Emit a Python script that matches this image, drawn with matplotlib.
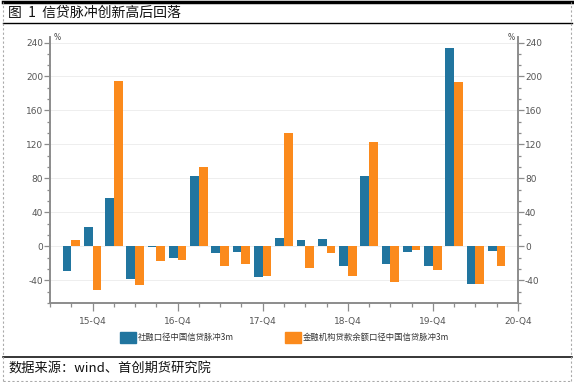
import matplotlib
matplotlib.use('Agg')
import matplotlib.pyplot as plt
import matplotlib.patches as mpatches
from matplotlib.lines import Line2D
from matplotlib.ticker import MultipleLocator, AutoMinorLocator, FixedLocator
import numpy as np

plt.rcParams['font.family'] = ['Noto Sans CJK SC', 'DejaVu Sans']

# ---- data ----
quarters = ['15-Q3', '15-Q4', '16-Q1', '16-Q2', '16-Q3', '16-Q4', '17-Q1',
            '17-Q2', '17-Q3', '17-Q4', '18-Q1', '18-Q2', '18-Q3', '18-Q4',
            '19-Q1', '19-Q2', '19-Q3', '19-Q4', '20-Q1', '20-Q2', '20-Q3']
shrong = [-29, 22.7, 56.5, -38, -0.5, -14, 82.7, -8, -6.3, -35.7, 10.2,
          7.8, 8.6, -23.5, 82.7, -20.4, -7, -23.5, 233, -44.7, -5.5]
jinrong = [7.5, -51, 195, -45.5, -17, -16, 93.3, -22.7, -20.8, -34.5, 134,
           -25, -7.8, -35, 123, -42, -4, -28, 193.7, -44, -23.5]
xlabels = ['15-Q4', '16-Q4', '17-Q4', '18-Q4', '19-Q4', '20-Q4']
name_a = '社融口径中国信贷脉冲3m'
name_b = '金融机构贷款余额口径中国信贷脉冲3m'

blue = '#21759f'
orange = '#fb8a1c'
grey = '#8c8c8c'
tickfont = ['Liberation Sans Narrow', 'DejaVu Sans']

fig = plt.figure(figsize=(5.74, 3.82), dpi=100)
ax = fig.add_axes([50/574, 79/382, 468/574, 266/382])

# quarter index: axis starts one quarter before the first bar
x = np.arange(len(quarters)) + 1
w = 0.41
ax.bar(x - w/2, shrong, width=w, color=blue, label=name_a, zorder=3)
ax.bar(x + w/2, jinrong, width=w, color=orange, label=name_b, zorder=3)

ax.set_xlim(0, len(quarters) + 1)
ax.set_ylim(-66.67, 246.5)

# x ticks: label each Q4, minor tick every quarter
major_pos = [quarters.index(q) + 1 if q in quarters else len(quarters) + 1
             for q in xlabels]
ax.xaxis.set_major_locator(FixedLocator(major_pos))
ax.set_xticklabels(xlabels, family=tickfont, fontsize=6.5, color='#555555')
ax.xaxis.set_minor_locator(MultipleLocator(1))
ax.tick_params(axis='x', which='major', length=6, width=0.9, color=grey, pad=4)
ax.tick_params(axis='x', which='minor', length=3, width=0.9, color=grey)

ax.yaxis.set_major_locator(MultipleLocator(40))
ax.yaxis.set_minor_locator(AutoMinorLocator(3))
ax.tick_params(axis='y', which='major', length=4, width=0.9, color=grey,
               labelsize=6.5, labelcolor='#555555', pad=1)
ax.tick_params(axis='y', which='minor', length=2, width=0.9, color=grey)
ax.yaxis.set_major_formatter(plt.FuncFormatter(lambda v, p: f'{v:.0f}'))
for t in ax.get_yticklabels():
    t.set_family(tickfont)
ax.grid(axis='y', which='major', color='#eeeeee', lw=0.7, zorder=0)

# right axis mirrors the left one
ax2 = ax.twinx()
ax2.set_ylim(ax.get_ylim())
ax2.yaxis.set_major_locator(MultipleLocator(40))
ax2.yaxis.set_minor_locator(AutoMinorLocator(3))
ax2.tick_params(axis='y', which='major', length=4, width=0.9, color=grey,
                labelsize=6.5, labelcolor='#555555', pad=1)
ax2.tick_params(axis='y', which='minor', length=2, width=0.9, color=grey)
ax2.yaxis.set_major_formatter(plt.FuncFormatter(lambda v, p: f'{v:.0f}'))
for t in ax2.get_yticklabels():
    t.set_family(tickfont)

for a in (ax, ax2):
    a.spines['top'].set_visible(False)
    for s in ('left', 'right', 'bottom'):
        a.spines[s].set_color(grey)
        a.spines[s].set_linewidth(1.2)

ax.text(0.008, 1.0, '%', transform=ax.transAxes, fontsize=5.5, color='#444444',
        ha='left', va='center', family=tickfont)
ax.text(0.992, 1.0, '%', transform=ax.transAxes, fontsize=5.5, color='#444444',
        ha='right', va='center', family=tickfont)

# legend
handles = [mpatches.Patch(color=blue, label=name_a),
           mpatches.Patch(color=orange, label=name_b)]
leg = fig.legend(handles=handles, loc='center', bbox_to_anchor=(0.496, 0.1165),
                 ncol=2, frameon=False, fontsize=6, handlelength=1.92,
                 handleheight=1.56, handletextpad=0.2, columnspacing=6.1)
for t in leg.get_texts():
    t.set_color('#333333')

# frame, title and source
fig.add_artist(Line2D([3/574, 572/574], [1 - 1.5/382, 1 - 1.5/382], color='black', lw=2.5))
fig.add_artist(Line2D([3/574, 572/574], [1 - 23.3/382, 1 - 23.3/382], color='black', lw=1))
fig.add_artist(Line2D([3/574, 572/574], [1 - 357.3/382, 1 - 357.3/382], color='black', lw=1.1))
dash = dict(color='#aaaaaa', lw=0.8, ls=(0, (2, 2)))
fig.add_artist(Line2D([2.5/574, 2.5/574], [1/382, 1 - 2/382], **dash))
fig.add_artist(Line2D([571/574, 571/574], [1/382, 1 - 2/382], **dash))
fig.add_artist(Line2D([2.5/574, 571/574], [1.5/382, 1.5/382], **dash))

fig.text(8/574, 1 - 12.5/382, '图  1  信贷脉冲创新高后回落', fontsize=10, color='#111111',
         ha='left', va='center')
fig.text(8/574, 1 - 369.5/382, '数据来源：wind、首创期货研究院', fontsize=9.5,
         color='#111111', ha='left', va='center')

fig.savefig('out.png', dpi=100)
